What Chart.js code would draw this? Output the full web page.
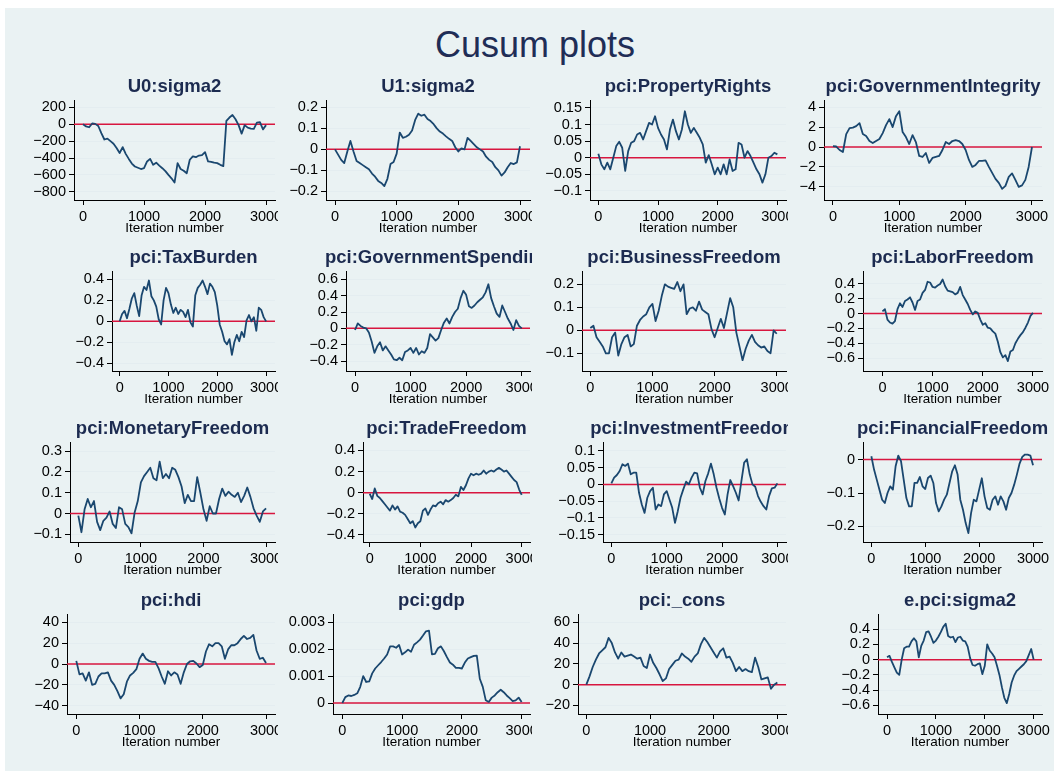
<!DOCTYPE html>
<html>
<head>
<meta charset="utf-8">
<script src="https://cdn.jsdelivr.net/npm/chart.js@4.4.1/dist/chart.umd.min.js"></script>
<style>
  body { margin: 0; width: 1054px; height: 771px; overflow: hidden; position: relative; background: #fff; font-family: "Liberation Sans", Arial, sans-serif; }
  #graphRegion { position: absolute; left: 5px; top: 8px; right: 0; bottom: 0; background: #eaf2f3; }
  #mainTitle { position: absolute; left: 335px; width: 400px; top: 27px; text-align: center; font-size: 36px; line-height: 36px; color: #1f2d56; }
  canvas { position: absolute; }
</style>
</head>
<body>
<div id="graphRegion"></div>
<div id="mainTitle">Cusum plots</div>
<script>
// iteration number, every 50 draws
const iterations = [0,50,100,150,200,250,300,350,400,450,500,550,600,650,700,750,800,850,900,950,
  1000,1050,1100,1150,1200,1250,1300,1350,1400,1450,1500,1550,1600,1650,1700,1750,1800,1850,1900,1950,
  2000,2050,2100,2150,2200,2250,2300,2350,2400,2450,2500,2550,2600,2650,2700,2750,2800,2850,2900,2950,3000];

const xTicks = [0, 1000, 2000, 3000];

// cusum values
const u0Sigma2 = [0,-25,-35,10,5,-20,-105,-180,-170,-200,-230,-280,-340,-270,-350,-410,-465,-500,-515,-530,
  -520,-440,-410,-480,-455,-490,-520,-555,-600,-640,-690,-460,-530,-550,-580,-420,-380,-390,-370,-365,
  -330,-440,-445,-455,-460,-480,-495,40,80,110,60,-10,-110,-10,-40,-50,-55,20,25,-60,-10];
const u1Sigma2 = [0,-0.025,-0.05,-0.065,-0.01,0.04,-0.01,-0.055,-0.065,-0.075,-0.085,-0.095,-0.115,-0.13,-0.15,-0.16,-0.175,-0.14,-0.07,-0.06,
  -0.02,0.08,0.055,0.06,0.07,0.09,0.14,0.17,0.16,0.165,0.145,0.135,0.12,0.1,0.085,0.075,0.062,0.05,0.04,0.01,
  -0.01,0.005,0,0.055,0.04,0.025,0.01,0,-0.01,-0.035,-0.05,-0.06,-0.085,-0.1,-0.125,-0.11,-0.085,-0.065,-0.07,-0.062,0.015];
const propertyRights = [0.012,-0.02,-0.035,-0.015,-0.035,0,0.035,0.048,0.03,-0.04,0.02,0.045,0.05,0.07,0.075,0.055,0.08,0.105,0.1,0.125,
  0.09,0.07,0.055,0.025,0.085,0.115,0.08,0.055,0.085,0.14,0.1,0.075,0.09,0.075,0.06,0.04,-0.015,0.008,-0.02,-0.05,
  -0.03,-0.05,-0.02,-0.05,-0.005,-0.04,-0.035,0.045,0.04,0,0.02,0.005,-0.015,-0.035,-0.05,-0.075,-0.05,0,0.005,0.015,0.01];
const govIntegrity = [0.1,0.05,-0.3,-0.5,1.3,1.9,1.95,2.1,2.4,1.3,1.1,0.6,0.4,0.6,0.8,1.4,2.2,2.8,2.0,3.1,
  3.6,1.5,1.0,0.3,1.2,0.5,-0.9,-1.0,-0.6,-1.6,-1.1,-1.0,-0.9,-0.3,0.5,0.3,0.6,0.7,0.6,0.3,
  -0.3,-1.3,-2.0,-1.8,-1.4,-1.4,-1.35,-2.0,-2.6,-3.2,-3.6,-4.2,-3.9,-3.0,-2.65,-3.3,-4.0,-3.85,-3.3,-2.0,0];
const taxBurden = [0,0.07,0.1,0.03,0.12,0.22,0.27,0.15,0.05,0.25,0.33,0.3,0.39,0.24,0.2,0.14,0.02,-0.03,0.2,0.32,
  0.27,0.16,0.08,0.13,0.07,0.11,0.09,0.04,0.11,-0.01,-0.05,0.25,0.32,0.35,0.39,0.33,0.26,0.36,0.33,0.28,
  0.15,-0.03,-0.1,-0.19,-0.22,-0.17,-0.32,-0.2,-0.13,-0.19,-0.1,-0.15,0.01,0.06,0,0.04,-0.09,0.13,0.11,0.04,0];
const govSpending = [-0.02,0.06,0.03,0.01,0,-0.05,-0.16,-0.3,-0.22,-0.17,-0.27,-0.22,-0.27,-0.32,-0.38,-0.39,-0.36,-0.39,-0.29,-0.27,
  -0.24,-0.3,-0.24,-0.32,-0.28,-0.3,-0.24,-0.07,-0.11,-0.15,-0.12,-0.02,0.07,0.12,0.06,0.14,0.2,0.24,0.37,0.46,
  0.41,0.27,0.25,0.28,0.32,0.35,0.38,0.44,0.54,0.37,0.27,0.18,0.14,0.28,0.2,0.12,0.06,-0.02,0.1,0.03,0];
const businessFreedom = [0.01,0.02,-0.03,-0.05,-0.07,-0.1,-0.1,-0.03,-0.01,-0.11,-0.06,-0.03,-0.02,-0.07,-0.06,0.02,0.045,0.06,0.07,0.1,
  0.115,0.04,0.085,0.15,0.2,0.19,0.185,0.18,0.21,0.17,0.2,0.07,0.095,0.1,0.085,0.125,0.09,0.08,0.07,0.005,
  -0.03,0.01,0.05,0.01,0.075,0.14,0.1,-0.01,-0.07,-0.13,-0.08,-0.045,-0.02,-0.05,-0.065,-0.075,-0.07,-0.09,-0.1,0,-0.015];
const laborFreedom = [0.03,0.06,-0.08,-0.12,-0.135,-0.1,0.06,0.14,0.09,0.17,0.19,0.22,0.15,0.05,0.17,0.19,0.28,0.32,0.43,0.42,
  0.36,0.35,0.38,0.4,0.46,0.37,0.31,0.3,0.29,0.26,0.28,0.36,0.25,0.19,0.13,0.05,-0.01,0.03,0.01,-0.08,
  -0.15,-0.13,-0.19,-0.2,-0.24,-0.27,-0.38,-0.52,-0.59,-0.56,-0.64,-0.51,-0.49,-0.4,-0.34,-0.29,-0.25,-0.19,-0.12,-0.03,0.01];
const monetaryFreedom = [-0.01,-0.09,0.02,0.07,0.03,0.06,-0.04,-0.08,-0.035,-0.02,0.01,-0.05,-0.07,0.03,0.02,-0.05,-0.065,-0.095,0.005,0.06,
  0.15,0.18,0.2,0.22,0.17,0.16,0.25,0.17,0.19,0.17,0.22,0.21,0.175,0.13,0.05,0.09,0.06,0.06,0.175,0.1,
  0.02,-0.035,0.035,0,0,0.07,0.12,0.085,0.105,0.09,0.08,0.1,0.055,0.085,0.125,0.08,0.025,-0.01,-0.04,0.01,0.025];
const tradeFreedom = [-0.01,-0.06,0.04,-0.03,-0.05,-0.08,-0.11,-0.14,-0.17,-0.12,-0.16,-0.13,-0.18,-0.19,-0.21,-0.25,-0.29,-0.27,-0.33,-0.29,
  -0.27,-0.17,-0.15,-0.21,-0.16,-0.12,-0.13,-0.1,-0.085,-0.11,-0.07,-0.085,-0.07,-0.05,-0.02,-0.035,0.055,0.025,0.07,0.135,
  0.18,0.165,0.18,0.17,0.18,0.21,0.18,0.2,0.21,0.2,0.22,0.235,0.22,0.2,0.21,0.18,0.15,0.12,0.1,0.03,-0.02];
const investmentFreedom = [0.003,0.02,0.028,0.04,0.06,0.055,0.062,0.03,0.035,0.035,-0.025,-0.06,-0.085,-0.04,-0.02,-0.01,-0.075,-0.06,-0.065,-0.03,
  -0.02,-0.045,-0.07,-0.115,-0.08,-0.04,-0.015,0.008,0,0.02,0.035,0.033,-0.01,-0.03,0.01,0.033,0.062,0.03,-0.01,-0.042,
  -0.07,-0.09,-0.03,0.013,-0.005,-0.025,-0.048,0.01,0.065,0.075,0.03,0,-0.007,-0.035,-0.052,-0.065,-0.075,-0.035,-0.012,-0.01,0.003];
const financialFreedom = [0.01,-0.03,-0.06,-0.09,-0.12,-0.13,-0.1,-0.08,-0.09,-0.02,0.012,-0.005,-0.06,-0.115,-0.14,-0.14,-0.07,-0.07,-0.052,-0.08,
  -0.088,-0.055,-0.048,-0.07,-0.13,-0.155,-0.14,-0.12,-0.105,-0.07,-0.035,-0.017,-0.045,-0.12,-0.15,-0.19,-0.22,-0.16,-0.12,-0.125,
  -0.09,-0.056,-0.11,-0.145,-0.15,-0.12,-0.11,-0.135,-0.11,-0.125,-0.15,-0.115,-0.1,-0.075,-0.045,-0.012,0.008,0.015,0.015,0.012,-0.017];
const hdi = [3,-10,-9,-16,-8,-20,-19,-12,-9,-9,-8,-16,-20,-26,-33,-29,-17,-11,-8.5,-5,
  5,10,5,3,2,2,-4,-12,-19,-7,-11,-8,-10,-19,-8,0,2.6,3,0.5,-3,
  -1,12,19,17,20,20,17,5,14,18,18,20,24,27,24,25,28,13,5,6,1];
const gdp = [0,0.00022,0.00028,0.00026,0.0003,0.00036,0.0006,0.001,0.00078,0.0008,0.0011,0.00128,0.0014,0.00152,0.00165,0.0018,0.0021,0.0021,0.00205,0.00215,
  0.0018,0.00188,0.00198,0.0019,0.00216,0.00225,0.00235,0.0025,0.00266,0.00268,0.0018,0.00182,0.00203,0.0021,0.00192,0.0017,0.0015,0.00142,0.0013,0.0013,
  0.00128,0.0015,0.00165,0.0017,0.00175,0.00176,0.0009,0.0006,0.0001,0.00004,0.0002,0.00028,0.0004,0.00049,0.0004,0.00028,0.00018,0.00007,0.0001,0.0002,0.00004];
const cons = [0,8,17,24,30,33,36,45,40,31,25,31,27,28,29,27,25,26,18,16,
  29,21,16,10,3.5,6,15,19,23,24,30,27,25,22,27,30,39,45,41,36,
  31,26,32,35,26,27,21,13,17,13,15,13,12,26,17,5,6,7,-4,0,2];
const eSigma2 = [0.03,0.05,-0.03,-0.1,-0.17,-0.2,0,0.15,0.17,0.17,0.24,0.28,0.24,0.03,0.18,0.25,0.36,0.37,0.3,0.22,
  0.25,0.3,0.36,0.43,0.47,0.31,0.29,0.3,0.23,0.29,0.3,0.25,0.24,0.17,0.02,-0.07,-0.08,-0.06,-0.05,-0.19,
  -0.08,0.2,0.12,0.08,0.03,-0.08,-0.2,-0.36,-0.5,-0.57,-0.45,-0.3,-0.21,-0.15,-0.12,-0.09,-0.06,-0.02,0.06,0.14,0];

// one entry per panel: title, series, y ticks, axis ranges
// box = plot area [left, top, right, bottom, clip edge] in page pixels
const panels = [
  { title: 'U0:sigma2', values: u0Sigma2, yTicks: [-800,-600,-400,-200,0,200], y: [-897, 288], x: [-148, 3147], box: [74,100,275,200,278] },
  { title: 'U1:sigma2', values: u1Sigma2, yTicks: [-0.2,-0.1,0,0.1,0.2], y: [-0.241, 0.235], x: [-146, 3162], box: [326,100,530,200,532] },
  { title: 'pci:PropertyRights', values: propertyRights, yTicks: [-0.1,-0.05,0,0.05,0.1,0.15], y: [-0.1275, 0.174], x: [-140, 3145], box: [590,100,786,200,788] },
  { title: 'pci:GovernmentIntegrity', values: govIntegrity, yTicks: [-4,-2,0,2,4], y: [-5.32, 4.72], x: [-135, 3151], box: [824,100,1042,200,1050] },

  { title: 'pci:TaxBurden', values: taxBurden, yTicks: [-0.4,-0.2,0,0.2,0.4], y: [-0.4745, 0.481], x: [-157, 3183], box: [112,271,275,371,278] },
  { title: 'pci:GovernmentSpending', values: govSpending, yTicks: [-0.4,-0.2,0,0.2,0.4,0.6], y: [-0.522, 0.702], x: [-162, 3149], box: [346,271,530,371,532] },
  { title: 'pci:BusinessFreedom', values: businessFreedom, yTicks: [-0.1,0,0.1,0.2], y: [-0.177, 0.258], x: [-134, 3149], box: [582,271,786,371,788] },
  { title: 'pci:LaborFreedom', values: laborFreedom, yTicks: [-0.6,-0.4,-0.2,0,0.2,0.4], y: [-0.774, 0.575], x: [-387, 3180], box: [863,271,1042,371,1050] },

  { title: 'pci:MonetaryFreedom', values: monetaryFreedom, yTicks: [-0.1,0,0.1,0.2,0.3], y: [-0.137, 0.344], x: [-133, 3143], box: [70,442,275,542,278] },
  { title: 'pci:TradeFreedom', values: tradeFreedom, yTicks: [-0.4,-0.2,0,0.2,0.4], y: [-0.467, 0.48], x: [-132, 3164], box: [363,442,530,542,532] },
  { title: 'pci:InvestmentFreedom', values: investmentFreedom, yTicks: [-0.15,-0.1,-0.05,0,0.05,0.1], y: [-0.172, 0.1265], x: [-151, 3156], box: [603,442,786,542,788] },
  { title: 'pci:FinancialFreedom', values: financialFreedom, yTicks: [-0.2,-0.1,0], y: [-0.2465, 0.0525], x: [-155, 3166], box: [863,442,1042,542,1050] },

  { title: 'pci:hdi', values: hdi, yTicks: [-40,-20,0,20,40], y: [-48, 48], x: [-147, 3142], box: [67,614,275,714,278] },
  { title: 'pci:gdp', values: gdp, yTicks: [0,0.001,0.002,0.003], y: [-0.000407, 0.0033], x: [-156, 3140], box: [333,614,530,714,532] },
  { title: 'pci:_cons', values: cons, yTicks: [-20,0,20,40,60], y: [-28.25, 68], x: [-131, 3136], box: [578,614,786,714,788] },
  { title: 'e.pci:sigma2', values: eSigma2, yTicks: [-0.6,-0.4,-0.2,0,0.2,0.4], y: [-0.712, 0.598], x: [-185, 3171], box: [878,614,1042,714,1050] }
];

const fontFamily = '"Liberation Sans", Arial, Helvetica, sans-serif';
Chart.defaults.font.family = fontFamily;

const lineColor = '#1a476f';
const zeroColor = '#d8163f';
const gridColor = '#e4edf0';
const titleColor = '#1c2b50';

const yAxisSpace = 64;   // room for y labels left of the plot
const titleSpace = 22;   // title block above the plot
const xAxisSpace = 36;   // tick labels + axis title below the plot

// red reference line at zero, drawn under the series
const zeroLine = {
  id: 'zeroLine',
  beforeDatasetsDraw(chart) {
    const ctx = chart.ctx;
    const area = chart.chartArea;
    const y = chart.scales.y.getPixelForValue(0);
    ctx.save();
    ctx.strokeStyle = zeroColor;
    ctx.lineWidth = 1.5;
    ctx.beginPath();
    ctx.moveTo(area.left, y);
    ctx.lineTo(area.right, y);
    ctx.stroke();
    ctx.restore();
  }
};

// panel title centred over the plot; long ones run off the edge like the original
const panelTitle = {
  id: 'panelTitle',
  afterDraw(chart, args, opts) {
    const ctx = chart.ctx;
    const area = chart.chartArea;
    ctx.save();
    ctx.font = 'bold 18.5px ' + fontFamily;
    ctx.fillStyle = titleColor;
    ctx.textAlign = 'center';
    ctx.textBaseline = 'middle';
    ctx.fillText(opts.text, (area.left + area.right) / 2, area.top - 13);
    ctx.restore();
  }
};

function fmt(v) {
  return String(v).replace('-', '\u2212');
}

panels.forEach(function (p) {
  const left = p.box[0], top = p.box[1], right = p.box[2], bottom = p.box[3], clip = p.box[4];
  const canvas = document.createElement('canvas');
  const cLeft = left - yAxisSpace;
  const cTop = top - titleSpace;
  canvas.width = clip - cLeft;
  canvas.height = (bottom - top) + titleSpace + xAxisSpace;
  canvas.style.left = cLeft + 'px';
  canvas.style.top = cTop + 'px';
  document.body.appendChild(canvas);

  const points = iterations.map((it, i) => ({ x: it, y: p.values[i] }));

  new Chart(canvas.getContext('2d'), {
    type: 'line',
    data: {
      datasets: [{
        data: points,
        borderColor: lineColor,
        borderWidth: 1.8,
        borderJoinStyle: 'round',
        pointRadius: 0,
        tension: 0,
        fill: false
      }]
    },
    options: {
      responsive: false,
      animation: false,
      events: [],
      layout: { padding: { left: 0, top: titleSpace, bottom: 0, right: clip - right } },
      plugins: {
        legend: { display: false },
        tooltip: { enabled: false },
        title: { display: false },
        panelTitle: { text: p.title }
      },
      scales: {
        x: {
          type: 'linear',
          min: p.x[0],
          max: p.x[1],
          afterBuildTicks: s => { s.ticks = xTicks.map(v => ({ value: v })); },
          afterFit: s => { s.height = xAxisSpace; s.paddingLeft = 0; s.paddingRight = 0; },
          grid: { drawOnChartArea: false, drawTicks: true, tickLength: 5, tickColor: '#000' },
          border: { display: true, color: '#000', width: 1 },
          ticks: { color: '#000', font: { size: 14.5 }, padding: 3, maxRotation: 0, autoSkip: false, callback: v => String(v) },
          title: { display: true, text: 'Iteration number', color: '#000', font: { size: 13.5, lineHeight: 1.2 }, padding: 0 }
        },
        y: {
          type: 'linear',
          min: p.y[0],
          max: p.y[1],
          afterBuildTicks: s => { s.ticks = p.yTicks.map(v => ({ value: v })); },
          afterFit: s => { s.width = yAxisSpace; s.paddingTop = 0; s.paddingBottom = 0; },
          grid: { color: gridColor, lineWidth: 1, drawTicks: true, tickLength: 5, tickColor: '#000' },
          border: { display: true, color: '#000', width: 1 },
          ticks: { color: '#000', font: { size: 14.5 }, padding: 3, autoSkip: false, callback: v => fmt(v) }
        }
      }
    },
    plugins: [zeroLine, panelTitle]
  });
});
</script>
</body>
</html>
